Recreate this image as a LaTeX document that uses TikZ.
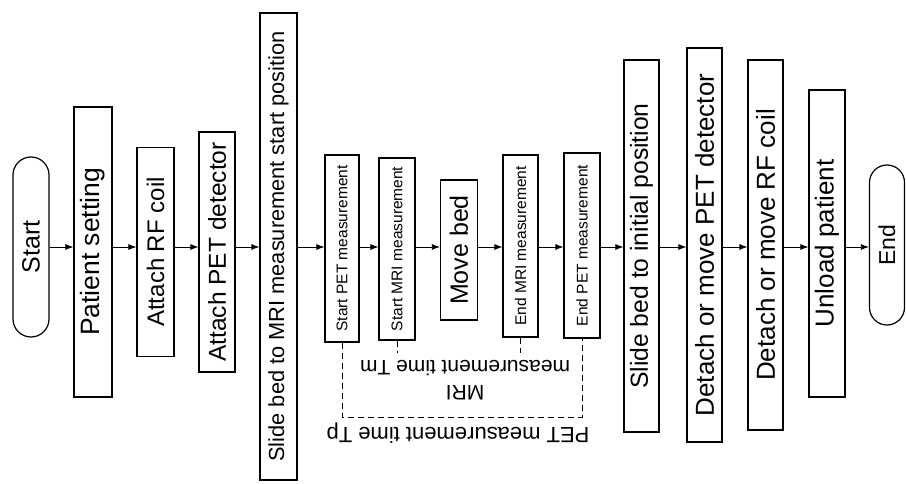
\documentclass[tikz,border=0pt]{standalone}
\usepackage{fontspec}
\setmainfont{Liberation Sans}
\usetikzlibrary{arrows.meta,shapes.misc}
\newcommand\fsz[1]{\fontsize{#1}{#1}\selectfont}

\begin{document}
\begin{tikzpicture}
  [x=1pt,y=-1pt,
   stepbox/.style={draw,line width=1.2pt,rotate=90,inner sep=0pt,font=\fsz{24}},
   termbox/.style={stepbox,rounded rectangle},
   smallbox/.style={stepbox,font=\fsz{15.5}},
   arr/.style={-{Latex[length=8pt,width=6pt]},line width=0.8pt},
   bracket/.style={line width=1pt,dash pattern=on 6pt off 4pt},
   note/.style={rotate=180,align=center,inner sep=0pt}]
  \useasboundingbox (0,0) rectangle (906,484);
  \coordinate (axis) at (0,247);
  \coordinate (pbase) at (0,417);
  \coordinate (mbase) at (0,353);

  \node[termbox,minimum width=180,minimum height=36,font=\fsz{25}] (start) at (31,247) {Start};
  \node[stepbox,minimum width=290,minimum height=38,font=\fsz{26.5}] (setting) at (93,252) {Patient setting};
  \node[stepbox,minimum width=209,minimum height=37] (rfcoil) at (155.5,252) {Attach RF coil};
  \node[stepbox,minimum width=240,minimum height=36,font=\fsz{24.5}] (petdet) at (217,252) {Attach PET detector};
  \node[stepbox,minimum width=467,minimum height=37,font=\fsz{21.8}] (slidein) at (278.5,246.5) {Slide bed to MRI measurement start position};
  \node[smallbox,minimum width=187,minimum height=34] (petstart) at (342,248.5) {Start PET measurement};
  \node[smallbox,minimum width=182,minimum height=36] (mristart) at (397,249) {Start MRI measurement};
  \node[stepbox,minimum width=140,minimum height=37,font=\fsz{25}] (movebed) at (459,250) {Move bed};
  \node[smallbox,minimum width=182,minimum height=35] (mriend) at (520.5,246) {End MRI measurement};
  \node[smallbox,minimum width=185,minimum height=36] (petend) at (582,245.5) {End PET measurement};
  \node[stepbox,minimum width=372,minimum height=35,font=\fsz{24.7}] (slideout) at (641.5,246) {Slide bed to initial position};
  \node[stepbox,minimum width=394,minimum height=35,font=\fsz{26}] (petoff) at (704.5,245) {Detach or move PET detector};
  \node[stepbox,minimum width=370,minimum height=35,font=\fsz{26}] (rfoff) at (765.5,245) {Detach or move RF coil};
  \node[stepbox,minimum width=307,minimum height=36,font=\fsz{26}] (unload) at (827,243.5) {Unload patient};
  \node[termbox,minimum width=160,minimum height=35,font=\fsz{23}] (finish) at (887,245) {End};

  \foreach \from/\to in {start/setting,setting/rfcoil,rfcoil/petdet,petdet/slidein,slidein/petstart,
      petstart/mristart,mristart/movebed,movebed/mriend,mriend/petend,petend/slideout,
      slideout/petoff,petoff/rfoff,rfoff/unload,unload/finish}
    \draw[arr] (\from.south |- axis) -- (\to.north |- axis);

  \draw[bracket] (petstart.west) |- (petend.west |- pbase) -- (petend.west);
  \draw[bracket] (mristart.west) -- (mristart.west |- mbase);
  \draw[bracket] (mriend.west) -- (mriend.west |- mbase);

  \node[note,font=\fsz{22}] (pettime) at (458,433) {PET measurement time Tp};
  \node[note,font=\fontsize{21}{25}\selectfont] (mritime) at (465,380) {MRI\\measurement time Tm};
\end{tikzpicture}
\end{document}
